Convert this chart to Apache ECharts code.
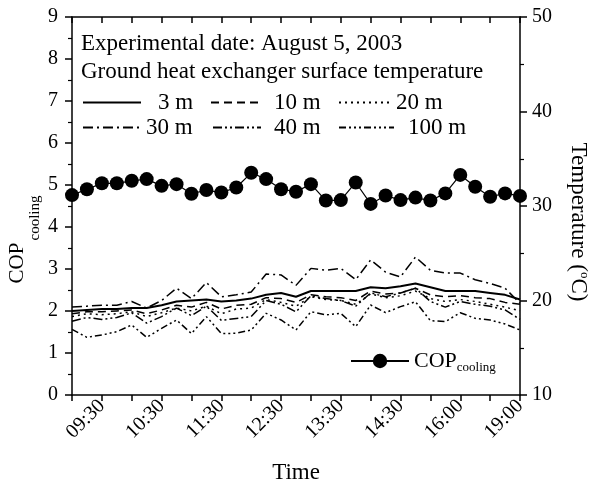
<!DOCTYPE html>
<html><head><meta charset="utf-8">
<script src="https://cdn.jsdelivr.net/npm/echarts@6/dist/echarts.min.js"></script>
<style>html,body{margin:0;padding:0;background:#fff}#c{width:592px;height:492px}</style>
</head><body><div id="c"></div>
<script>
const times = ['09:00','09:15','09:30','09:45','10:00','10:15','10:30','10:45','11:00','11:15','11:30','11:45','12:00','12:15','12:30','12:45','13:00','13:15','13:30','13:45','14:00','14:15','14:30','14:45','15:00','15:30','16:00','16:30','17:00','18:00','19:00'];
const cop = [4.76,4.90,5.04,5.04,5.10,5.14,4.98,5.02,4.79,4.88,4.82,4.94,5.29,5.14,4.90,4.84,5.02,4.63,4.64,5.06,4.55,4.75,4.64,4.70,4.63,4.80,5.24,4.96,4.72,4.80,4.74];
const t3 = [18.9,19.0,19.1,19.1,19.2,19.2,19.5,19.9,20.0,20.1,19.9,20.0,20.2,20.6,20.8,20.4,21.0,21.0,21.0,21.0,21.4,21.3,21.5,21.8,21.4,21.0,21.0,21.0,20.8,20.6,20.1];
const t10 = [18.6,18.8,18.8,18.9,19.0,18.6,19.0,19.5,19.3,19.8,19.1,19.5,19.6,20.3,20.2,19.8,20.6,20.4,20.3,20.0,21.0,20.7,20.8,21.3,20.6,20.4,20.5,20.3,20.2,19.8,19.6];
const t20 = [18.3,18.6,18.5,18.6,18.8,18.3,18.7,19.2,18.9,19.4,18.6,19.1,19.2,20.1,19.8,19.4,20.4,20.1,20.0,19.6,20.7,20.3,20.5,21.0,20.2,19.9,20.1,19.9,19.6,19.3,18.9];
const t30 = [19.3,19.4,19.5,19.5,19.9,19.2,20.0,21.3,20.2,21.9,20.4,20.6,20.9,22.8,22.7,21.6,23.4,23.2,23.4,22.2,24.3,23.0,22.5,24.6,23.2,22.9,22.9,22.2,21.8,21.3,19.7];
const t40 = [17.8,18.2,18.0,18.2,18.7,17.6,18.3,19.2,18.4,19.4,17.9,18.1,18.3,20.0,19.6,18.8,20.5,20.2,20.0,19.4,20.8,20.4,20.8,21.3,19.9,19.3,19.9,19.6,19.4,19.0,18.0];
const t100 = [16.95,16.10,16.35,16.70,17.41,16.10,17.05,17.94,16.50,18.29,16.50,16.53,16.88,18.64,17.94,16.88,18.82,18.47,18.64,17.23,19.52,18.71,19.35,19.87,17.87,17.76,18.71,18.11,17.94,17.51,16.88];
const leftTicks = {min:0, max:9, interval:1};
const rightTicks = {min:10, max:50, interval:10};

const F = 'Liberation Serif';
const chart = echarts.init(document.getElementById('c'));
const tempSeries = [
  {name:'3 m', data:t3, type:'solid', width:2},
  {name:'10 m', data:t10, type:[8,5], width:1.5},
  {name:'20 m', data:t20, type:[2,4], width:1.5},
  {name:'30 m', data:t30, type:[10,4,2,4], width:1.5},
  {name:'40 m', data:t40, type:[9,3,2,3,2,3], width:1.5},
  {name:'100 m', data:t100, type:[7,3,2,3,2,3,2,3], width:1.5}
];
const series = tempSeries.map(s => ({
  name: s.name, type:'line', xAxisIndex:0, yAxisIndex:1, data:s.data, symbol:'none',
  lineStyle:{color:'#000', width:s.width, type:s.type},
  itemStyle:{color:'#000'}, animation:false
}));
series.push({name:'COP', type:'line', xAxisIndex:0, yAxisIndex:0, data:cop, symbol:'circle', symbolSize:14, showAllSymbol:true,
  lineStyle:{color:'#000', width:1.2}, itemStyle:{color:'#000'}, animation:false, z:5});

// [left, top, iconWidth, textPadLeft]
const legPos = [[82,91,58,12],[210,91,50,8],[338,91,52,0],[82,116,58,0],[212,116,48,8],[338,116,55,9]];
const legends = tempSeries.map((s,i) => ({
  data:[s.name], left:legPos[i][0], top:legPos[i][1], itemWidth:legPos[i][2], itemHeight:14, itemGap:0,
  textStyle:{fontFamily:F, fontSize:23, color:'#000', padding:[0,0,0,legPos[i][3]]}, padding:0,
  itemStyle:{opacity:0}, lineStyle:{opacity:1}, selectedMode:false
}));
legends.push({data:['COP'], left:350, top:350, itemWidth:58, itemHeight:18, padding:0, selectedMode:false,
  formatter: () => '{a|COP}{b|cooling}',
  textStyle:{color:'#000', rich:{a:{fontFamily:F, fontSize:22, color:'#000'}, b:{fontFamily:F, fontSize:13, color:'#000', padding:[14,0,0,0]}}}});

chart.setOption({
  animation:false,
  backgroundColor:'#fff',
  title:[
    {text:'Experimental date: August 5, 2003', left:81, top:32, textStyle:{fontFamily:F, fontSize:23, fontWeight:'normal', color:'#000'}, padding:0},
    {text:'Ground heat exchanger surface temperature', left:81, top:60, textStyle:{fontFamily:F, fontSize:23, fontWeight:'normal', color:'#000'}, padding:0}
  ],
  legend: legends,
  graphic:[
    {type:'text', x:17, y:263, rotation:Math.PI/2, style:{text:'COP', font:'21px "Liberation Serif"', fill:'#000', align:'center', verticalAlign:'middle'}},
    {type:'text', x:35, y:218, rotation:Math.PI/2, style:{text:'cooling', font:'15px "Liberation Serif"', fill:'#000', align:'center', verticalAlign:'middle'}},
    {type:'text', x:578, y:222, rotation:-Math.PI/2, style:{text:'{a|Temperature (}{b|o}{a|C)}', fill:'#000', align:'center', verticalAlign:'middle',
      rich:{a:{font:'23px "Liberation Serif"', fill:'#000'}, b:{font:'13px "Liberation Serif"', fill:'#000', padding:[0,0,12,0]}}}}
  ],
  grid:{left:72, right:72, top:17, bottom:97},
  xAxis:[
    {type:'category', data:times, boundaryGap:false, position:'bottom',
     axisLine:{lineStyle:{color:'#000', width:1.5}},
     axisTick:{interval:(i)=> i%2===0, length:6, lineStyle:{color:'#000', width:1.5}},
     axisLabel:{interval:(i)=> i%4===2, rotate:45, fontFamily:F, fontSize:20, color:'#000', margin:8},
     name:'Time', nameLocation:'middle', nameGap:66, nameTextStyle:{fontFamily:F, fontSize:23, color:'#000'},
     splitLine:{show:false}},
    {type:'category', data:times, boundaryGap:false, position:'top',
     axisLine:{lineStyle:{color:'#000', width:1.5}},
     axisTick:{interval:(i)=> i%2===0, inside:true, length:6, lineStyle:{color:'#000', width:1.5}},
     axisLabel:{show:false}, splitLine:{show:false}}
  ],
  yAxis:[
    {type:'value', position:'left', min:leftTicks.min, max:leftTicks.max, interval:leftTicks.interval,
     axisLine:{show:true, lineStyle:{color:'#000', width:1.5}},
     axisTick:{show:true, length:7, lineStyle:{color:'#000', width:1.5}},
     minorTick:{show:true, splitNumber:2, length:4, lineStyle:{color:'#000', width:1.2}},
     axisLabel:{fontFamily:F, fontSize:20, color:'#000', margin:14},
     splitLine:{show:false}},
    {type:'value', position:'right', min:rightTicks.min, max:rightTicks.max, interval:rightTicks.interval,
     axisLine:{show:true, lineStyle:{color:'#000', width:1.5}},
     axisTick:{show:true, length:7, lineStyle:{color:'#000', width:1.5}},
     minorTick:{show:true, splitNumber:2, length:4, lineStyle:{color:'#000', width:1.2}},
     axisLabel:{fontFamily:F, fontSize:20, color:'#000', margin:12},
     splitLine:{show:false}}
  ],
  series: series
});
</script></body></html>
